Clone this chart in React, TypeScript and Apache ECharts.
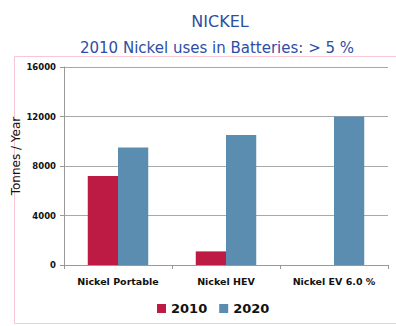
import React, { useEffect, useRef } from "react";
import * as echarts from "echarts";

const categories = ["Nickel Portable", "Nickel HEV", "Nickel EV 6.0 %"];
const values2010 = [7200, 1100, 0];
const values2020 = [9500, 10500, 12000];
const yTicks = [0, 4000, 8000, 12000, 16000];

export default function App() {
  const ref = useRef<HTMLDivElement>(null);
  useEffect(() => {
    if (!ref.current) return;
    const chart = echarts.init(ref.current, null, { renderer: "svg" });
    chart.setOption({
      animation: false,
      backgroundColor: "#ffffff",
      title: [
        {
          text: "NICKEL",
          left: 215,
          top: 8,
          textAlign: "center",
          textStyle: { fontFamily: "DejaVu Sans", fontSize: 16, fontWeight: "normal", color: "#2D4E9E" },
        },
        {
          text: "2010 Nickel uses in Batteries: > 5 %",
          left: 212,
          top: 35,
          textAlign: "center",
          textStyle: { fontFamily: "DejaVu Sans", fontSize: 15, fontWeight: "normal", color: "#2D4EA6" },
        },
      ],
      graphic: [
        {
          type: "rect",
          shape: { x: 14.5, y: 56.5, width: 400, height: 267 },
          style: { fill: "none", stroke: "#F7C8D4", lineWidth: 1 },
          silent: true,
        },
        {
          type: "text",
          x: 16,
          y: 156,
          rotation: Math.PI / 2,
          style: {
            text: "Tonnes / Year",
            fontFamily: "DejaVu Sans",
            fontSize: 12,
            fontWeight: "normal",
            fill: "#111",
            align: "center",
            verticalAlign: "middle",
          },
          silent: true,
        },
      ],
      legend: {
        data: ["2010", "2020"],
        left: 152,
        top: 297,
        itemWidth: 9,
        itemHeight: 9,
        itemGap: 12,
        icon: "rect",
        textStyle: { fontFamily: "DejaVu Sans", fontSize: 13, fontWeight: "bold", color: "#111" },
      },
      grid: { left: 64, right: 8, top: 67, bottom: 61, containLabel: false },
      xAxis: {
        type: "category",
        data: categories,
        axisLine: { lineStyle: { color: "#999" } },
        axisTick: { show: true, alignWithLabel: false, length: 4, lineStyle: { color: "#999" } },
        axisLabel: { fontFamily: "DejaVu Sans", fontSize: 9.5, fontWeight: "bold", color: "#111", margin: 11 },
      },
      yAxis: {
        type: "value",
        min: 0,
        max: 16000,
        interval: 4000,
        axisLine: { show: true, lineStyle: { color: "#999" } },
        axisTick: { show: true, length: 4, lineStyle: { color: "#999" } },
        splitLine: { lineStyle: { color: "#A8A8A8" } },
        axisLabel: {
          fontFamily: "DejaVu Sans",
          fontSize: 8.5,
          fontWeight: "bold",
          color: "#111",
          margin: 8,
          formatter: (v: number) => (yTicks.includes(v) ? String(v) : ""),
        },
      },
      series: [
        {
          name: "2010",
          type: "bar",
          data: values2010,
          barGap: "0%",
          barCategoryGap: "44%",
          itemStyle: { color: "#BE1B44" },
        },
        {
          name: "2020",
          type: "bar",
          data: values2020,
          itemStyle: { color: "#5A8DB0" },
        },
      ],
    });
    return () => chart.dispose();
  }, []);
  return <div ref={ref} style={{ width: 396, height: 326, position: "absolute", left: 0, top: 0 }} />;
}
